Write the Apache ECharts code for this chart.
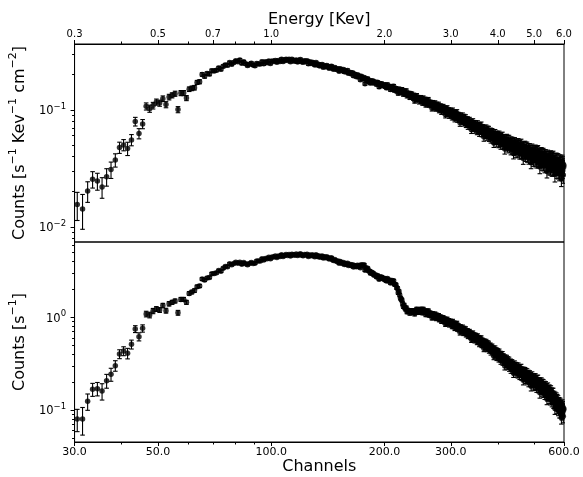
<!DOCTYPE html>
<html><head><meta charset="utf-8">
<script src="https://cdn.jsdelivr.net/npm/echarts@6/dist/echarts.min.js"></script>
<style>html,body{margin:0;padding:0;background:#fff}#c{width:583px;height:477px}</style>
</head><body><div id="c"></div>
<script>
// ---------------- data ----------------
const firstChannel = 30;           // first channel of the spectrum (one point per channel)
const keVPerChannel = 0.01;        // energy calibration used by the top axis
const channelRange = [30, 600];
const fluxRange = [0.00741, 0.365];
const rateRange = [0.04516, 6.49];

const energyTicks = [0.3, 0.5, 0.7, 1.0, 2.0, 3.0, 4.0, 5.0, 6.0];
const energyMinorTicks = [0.4, 0.6, 0.8, 0.9];
const channelTicks = [30, 50, 100, 200, 300, 600];
const channelMinorTicks = [40, 60, 70, 80, 90, 400, 500];
const fluxTicks = [0.01, 0.1];
const fluxMinorTicks = [0.008, 0.009, 0.02, 0.03, 0.04, 0.05, 0.06, 0.07, 0.08, 0.09, 0.2, 0.3];
const rateTicks = [0.1, 1];
const rateMinorTicks = [0.05, 0.06, 0.07, 0.08, 0.09, 0.2, 0.3, 0.4, 0.5, 0.6, 0.7, 0.8, 0.9, 2, 3, 4, 5, 6];

// top panel: counts s^-1 keV^-1 cm^-2, channels 30..599
const fluxValues = [
.0155,.0142,.0202,.0255,.0246,.0219,.0268,.0308,.0372,.0476,.0501,.0467,.0553,.0794,.0627,.0757,.107,.1023,.1086,.1165,.114,.1245,.1107,.1285,.133,.1373,.1004,.139,.139,.126,.150,.1525,.1545,.1714,.1737,.2005,.193,
.204,.202,.216,.215,.218,.228,.222,.235,.242,.240,
.253,.245,.254,.262,.258,.267,.250,.257,.247,.239,
.245,.250,.241,.238,.249,.246,.246,.258,.247,.257,
.252,.261,.249,.261,.259,.264,.255,.264,.259,.271,
.259,.265,.271,.264,.270,.258,.270,.264,.260,.267,
.256,.264,.269,.258,.255,.263,.258,.262,.247,.257,
.249,.255,.249,.242,.253,.242,.245,.237,.240,.244,
.231,.238,.233,.239,.233,.227,.232,.236,.226,.222,
.230,.224,.221,.224,.214,.224,.219,.216,.221,.211,
.216,.210,.217,.205,.207,.208,.202,.207,.195,.202,
.198,.192,.199,.191,.194,.181,.193,.187,.184,.189,
.167,.184,.178,.184,.174,.177,.169,.177,.172,.176,
.169,.171,.172,.165,.172,.166,.157,.168,.162,.167,
.163,.161,.164,.158,
.162,.154,.164,.157,.155,.159,.149,.156,.158,.150,
.159,.147,.150,.152,.145,.148,.139,.150,.145,.141,
.144,.148,.141,.137,.144,.139,.137,.144,.133,.137,
.134,.137,.129,.136,.132,.135,.130,.127,.132,.120,
.128,.123,.131,.125,.124,.126,.118,.124,.126,.120,
.122,.115,.125,.119,.116,.122,.111,.117,.121,.114,
.121,.111,.113,.115,.110,.113,.103,.114,.110,.106,
.109,.113,.105,.103,.110,.106,.104,.110,.0998,.106,
.102,.106,.0970,.104,.1011,.105,.1000,.0965,.102,.0905,
.0999,.0934,.102,.0963,.0938,.0981,.0900,.0950,.0973,.0922,
.0954,.0875,.0972,.0912,.0880,.0938,.0843,.0911,.0932,.0874,
.0939,.0839,.0878,.0891,.0834,.0873,.0774,.0881,.0842,.0813,
.0850,.0879,.0808,.0779,.0856,.0810,.0790,.0849,.0757,.0808,
.0780,.0815,.0732,.0798,.0771,.0805,.0754,.0728,.0777,.0675,
.0761,.0705,.0782,.0734,.0708,.0755,.0679,.0732,.0751,.0704,
.0729,.0662,.0750,.0698,.0673,.0726,.0640,.0698,.0722,.0664,
.0729,.0638,.0676,.0693,.0636,.0679,.0584,.0686,.0650,.0621,
.0657,.0686,.0619,.0597,.0671,.0630,.0614,.0668,.0584,.0637,
.0609,.0644,.0567,.0625,.0605,.0638,.0593,.0566,.0618,.0520,
.0600,.0551,.0624,.0581,.0561,.0604,.0527,.0581,.0602,.0554,
.0586,.0521,.0603,.0556,.0531,.0579,.0505,.0558,.0582,.0531,
.0589,.0507,.0542,.0562,.0512,.0548,.0461,.0560,.0527,.0499,
.0533,.0563,.0504,.0482,.0552,.0514,.0502,.0552,.0473,.0522,
.0500,.0534,.0457,.0516,.0499,.0532,.0491,.0464,.0518,.0422,
.0499,.0454,.0525,.0485,.0464,.0510,.0437,.0488,.0510,.0466,
.0493,.0434,.0513,.0469,.0449,.0495,.0423,.0473,.0499,.0452,
.0506,.0426,.0462,.0479,.0431,.0467,.0383,.0482,.0449,.0425,
.0455,.0485,.0430,.0407,.0476,.0439,.0429,.0476,.0400,.0447,
.0429,.0462,.0387,.0446,.0428,.0460,.0421,.0394,.0443,.0354,
.0428,.0385,.0456,.0416,.0398,.0439,.0372,.0420,.0443,.0401,
.0428,.0370,.0446,.0404,.0383,.0430,.0361,.0408,.0434,.0385,
.0440,.0363,.0398,.0417,.0372,.0407,.0324,.0419,.0387,.0363,
.0393,.0422,.0368,.0348,.0415,.0380,.0368,.0416,.0343,.0387,
.0371,.0404,.0332,.0387,.0371,.0403,.0365,.0339,.0389,.0300,
.0372,.0331,.0399,.0362,.0343,.0385,.0320,.0365,.0389,.0345,
.0373,.0319,.0393,.0353,.0334,.0379,.0312,.0361,.0384,.0338,
.0389,.0315,.0348,.0368,.0322,.0357,.0280,.0372,.0340,.0319,
.0345,.0374,.0323,.0302,.0369,.0334,.0323,.0369,.0298,.0340,
.0326,.0359,.0289,.0340,.0327,.0359,.0322,.0296,.0347,.0258,
.0328,.0290,.0356,.0320,.0303,.0345,.0277,.0323,.0335
];

// bottom panel: counts s^-1, channels 30..599
const rateValues = [
.080,.080,.124,.167,.170,.160,.207,.243,.301,.402,.433,.409,.511,.748,.618,.760,1.086,1.06,1.17,1.23,1.20,1.34,1.18,1.40,1.45,1.50,1.12,1.56,1.56,1.45,1.81,1.87,1.94,2.14,2.18,2.59,2.52,
2.65,2.69,2.95,2.96,3.02,3.20,3.14,3.38,3.53,3.52,
3.77,3.68,3.80,3.92,3.83,3.92,3.73,3.89,3.78,3.68,
3.81,3.91,3.81,3.83,4.06,4.04,4.06,4.28,4.14,4.32,
4.29,4.45,4.27,4.47,4.46,4.57,4.42,4.59,4.52,4.74,
4.53,4.65,4.76,4.65,4.75,4.57,4.80,4.72,4.67,4.81,
4.63,4.77,4.85,4.66,4.61,4.75,4.69,4.78,4.54,4.71,
4.60,4.72,4.62,4.51,4.72,4.52,4.60,4.45,4.52,4.59,
4.35,4.50,4.40,4.51,4.38,4.25,4.34,4.39,4.18,4.09,
4.20,4.08,4.00,4.04,3.84,4.00,3.89,3.81,3.90,3.71,
3.80,3.70,3.83,3.63,3.68,3.70,3.60,3.69,3.49,3.62,
3.57,3.50,3.64,3.54,3.63,3.43,3.69,3.64,3.61,3.69,
3.22,3.43,3.31,3.38,3.16,3.16,2.98,3.08,2.97,3.01,
2.85,2.87,2.86,2.72,2.83,2.72,2.57,2.74,2.64,2.72,
2.65,2.60,2.63,2.53,
2.59,2.46,2.62,2.50,2.46,2.52,2.35,2.46,2.49,2.38,
2.48,2.27,2.26,2.24,2.08,2.06,1.84,1.90,1.74,1.61,
1.57,1.53,1.40,1.31,1.35,1.27,1.23,1.26,1.15,1.19,
1.16,1.18,1.11,1.17,1.15,1.18,1.15,1.13,1.18,1.09,
1.17,1.13,1.22,1.17,1.16,1.20,1.13,1.19,1.22,1.17,
1.20,1.12,1.22,1.16,1.13,1.17,1.07,1.13,1.16,1.10,
1.17,1.06,1.085,1.11,1.05,1.09,.986,1.09,1.045,1.01,
1.05,1.08,1.00,.974,1.05,1.00,.985,1.04,.946,1.00,
.965,.999,.912,.974,.95,.983,.94,.902,.953,.846,
.933,.874,.945,.895,.872,.912,.836,.879,.900,.851,
.880,.806,.893,.836,.805,.857,.769,.828,.846,.792,
.850,.756,.789,.798,.746,.778,.689,.780,.744,.716,
.748,.772,.709,.682,.749,.708,.689,.740,.658,.702,
.676,.705,.634,.689,.664,.692,.647,.624,.664,.576,
.648,.599,.664,.621,.598,.635,.570,.614,.627,.586,
.605,.548,.618,.574,.552,.592,.521,.566,.584,.535,
.585,.511,.540,.552,.506,.539,.462,.542,.512,.488,
.514,.535,.482,.463,.518,.485,.471,.511,.446,.484,
.461,.486,.427,.469,.452,.475,.440,.418,.454,.381,
.438,.400,.452,.418,.403,.432,.374,.412,.424,.388,
.409,.362,.417,.382,.364,.395,.342,.376,.391,.355,
.391,.335,.358,.369,.334,.355,.298,.360,.337,.317,
.338,.355,.316,.301,.343,.319,.310,.339,.289,.318,
.304,.323,.276,.310,.299,.318,.292,.275,.306,.249,
.293,.266,.307,.282,.269,.296,.252,.281,.293,.267,
.281,.247,.291,.266,.253,.278,.238,.264,.279,.251,
.281,.235,.255,.263,.237,.254,.209,.261,.243,.229,
.245,.259,.230,.217,.253,.233,.226,.251,.210,.234,
.224,.241,.201,.231,.221,.238,.217,.202,.227,.181,
.218,.196,.231,.211,.201,.220,.186,.210,.221,.200,
.213,.184,.220,.199,.188,.211,.176,.198,.210,.186,
.212,.175,.191,.199,.177,.192,.153,.198,.182,.170,
.184,.197,.171,.161,.191,.174,.168,.189,.156,.175,
.167,.181,.149,.173,.165,.179,.161,.149,.171,.131,
.162,.144,.173,.156,.146,.164,.135,.154,.164,.145,
.155,.131,.161,.144,.135,.152,.125,.143,.151,.132,
.151,.121,.133,.140,.121,.133,.104,.137,.124,.116,
.124,.134,.114,.106,.129,.116,.112,.125,.101,.114,
.109,.119,.0959,.112,.107,.117,.105,.0956,.111,.0824,
.104,.0918,.112,.100,.0947,.107,.0855,.0997,.103
];

// relative 1-sigma error per channel (same counting statistics in both panels)
const relError = [
.27,.33,.20,.16,.165,.20,.17,.16,.13,.11,.11,.13,.11,.085,.10,.09,.07,.07,.065,.06,.06,.055,.06,.055,.05,.05,.06,.05,.05,.05,.045,.045,.045,.04,.04,.035,.035,
.033,.033,.032,.032,.031,.031,.031,.030,.030,.030,.029,.029,.029,.029,
.028,.028,.028,.028,.028,.028,.028,.028,.028,.028,.028,.028,.028,.028,.028,.028,.028,.028,.028,.028,
.028,.028,.028,.028,.028,.028,.028,.028,.028,.028,.028,.028,.028,.028,.028,.028,.028,.028,.028,.028,
.029,.029,.029,.029,.029,.029,.029,.029,.029,.029,.029,.029,.029,.029,.029,.029,.029,.029,.029,.029,
.029,.029,.029,.029,.029,.029,.029,.029,.029,.029,.029,.029,.029,.029,.029,.029,.029,.029,.029,.029,
.029,.029,.029,.029,.029,.029,.029,.029,.029,.029,.029,.029,.029,.029,.029,.029,
.030,.030,.030,.030,.031,.031,.031,.031,.032,.032,.032,.032,.032,.033,.033,.033,.033,.033,.033,.033,.033,.034,.034,.034,
.034,.034,.034,.034,.034,.034,.034,.034,.034,.034,
.035,.036,.037,.038,.039,.040,.041,.042,.043,.044,.045,.046,.047,.048,.049,.050,.050,.050,.051,.051,
.051,.051,.051,.051,.051,.051,.051,.051,.051,.051,.051,.051,.051,.051,.051,.051,.051,.051,.051,.051,.051,.051,.051,.051,.051,.051,.051,.051,.051,.051,
.053,.053,.053,.053,.053,.053,.053,.053,.053,.053,.056,.056,.056,.056,.056,.056,.056,.056,.056,.056,
.059,.059,.059,.059,.059,.059,.059,.059,.059,.059,.062,.062,.062,.062,.062,.062,.062,.062,.062,.062,
.065,.065,.065,.065,.065,.065,.065,.065,.065,.065,.067,.067,.067,.067,.067,.067,.067,.067,.067,.067,
.069,.069,.069,.069,.069,.069,.069,.069,.069,.069,.071,.071,.071,.071,.071,.071,.071,.071,.071,.071,
.073,.073,.073,.073,.073,.073,.073,.073,.073,.073,
.075,.075,.075,.075,.075,.075,.075,.075,.075,.075,.078,.078,.078,.078,.078,.078,.078,.078,.078,.078,
.081,.081,.081,.081,.081,.081,.081,.081,.081,.081,.084,.084,.084,.084,.084,.084,.084,.084,.084,.084,
.087,.087,.087,.087,.087,.087,.087,.087,.087,.087,
.090,.090,.090,.090,.090,.090,.090,.090,.090,.090,.093,.093,.093,.093,.093,.093,.093,.093,.093,.093,
.096,.096,.096,.096,.096,.096,.096,.096,.096,.096,.099,.099,.099,.099,.099,.099,.099,.099,.099,.099,
.102,.102,.102,.102,.102,.102,.102,.102,.102,.102,
.105,.105,.105,.105,.105,.105,.105,.105,.105,.105,.108,.108,.108,.108,.108,.108,.108,.108,.108,.108,
.111,.111,.111,.111,.111,.111,.111,.111,.111,.111,.114,.114,.114,.114,.114,.114,.114,.114,.114,.114,
.117,.117,.117,.117,.117,.117,.117,.117,.117,.117,
.120,.120,.120,.120,.120,.120,.120,.120,.120,.120,.123,.123,.123,.123,.123,.123,.123,.123,.123,.123,
.126,.126,.126,.126,.126,.126,.126,.126,.126,.126,.129,.129,.129,.129,.129,.129,.129,.129,.129,.129,
.132,.132,.132,.132,.132,.132,.132,.132,.132,.132,
.135,.135,.135,.135,.135,.135,.135,.135,.135,.135,.138,.138,.138,.138,.138,.138,.138,.138,.138,.138,
.141,.141,.141,.141,.141,.141,.141,.141,.141,.141,.145,.145,.145,.145,.145,.145,.145,.145,.145,.145,
.150,.150,.150,.150,.150,.150,.150,.150,.150
];

// ---------------- build ----------------
const FONT = 'DejaVu Sans';
const n = Math.min(fluxValues.length, rateValues.length, relError.length);
const ptsTop = [], errTop = [], ptsBot = [], errBot = [];
for (let i = 0; i < n; i++) {
  const ch = firstChannel + i + 0.5;       // channel centre
  const e = relError[i];
  ptsTop.push([ch, fluxValues[i]]);
  errTop.push([ch, fluxValues[i] * (1 - e), fluxValues[i] * (1 + e)]);
  ptsBot.push([ch, rateValues[i]]);
  errBot.push([ch, rateValues[i] * (1 - e), rateValues[i] * (1 + e)]);
}
const L = Math.log10;
const lg = a => a.map(v => L(v));

function renderErr(params, api) {
  const x = api.value(0);
  const lo = api.coord([x, api.value(1)]);
  const hi = api.coord([x, api.value(2)]);
  const cap = 2.3;
  const style = { stroke: '#000', lineWidth: 1.1, fill: null };
  return { type: 'group', children: [
    { type: 'line', shape: { x1: lo[0], y1: lo[1], x2: hi[0], y2: hi[1] }, style },
    { type: 'line', shape: { x1: lo[0] - cap, y1: lo[1], x2: lo[0] + cap, y2: lo[1] }, style },
    { type: 'line', shape: { x1: hi[0] - cap, y1: hi[1], x2: hi[0] + cap, y2: hi[1] }, style }
  ]};
}

const supRich = (big, small, bigLH, smallLH) => ({
  b: { fontFamily: FONT, fontSize: big, lineHeight: bigLH, verticalAlign: 'bottom', color: '#000' },
  s: { fontFamily: FONT, fontSize: small, lineHeight: smallLH, verticalAlign: 'top', color: '#000' }
});
const powLabel = v => { const k = Math.round(v); return '{b|10}{s|' + (k < 0 ? '\u2212' + (-k) : k) + '}'; };

const lineStyle = { color: '#000', width: 1 };
const hidden = { show: false };

function decoX(grid, pos, major, minorVals, labelFmt, fontSize, name, nameGap) {
  return [
    { gridIndex: grid, type: 'value', position: pos, min: L(channelRange[0]), max: L(channelRange[1]),
      axisLine: { show: true, onZero: false, lineStyle }, splitLine: hidden,
      axisTick: { show: true, inside: false, length: 4, customValues: lg(major), lineStyle },
      axisLabel: { show: true, customValues: lg(major), formatter: labelFmt, margin: 5,
                   fontFamily: FONT, fontSize: fontSize, color: '#000' },
      name: name, nameLocation: 'middle', nameGap: nameGap,
      nameTextStyle: { fontFamily: FONT, fontSize: 16, color: '#000' } },
    { gridIndex: grid, type: 'value', position: pos, min: L(channelRange[0]), max: L(channelRange[1]),
      axisLine: { show: false, onZero: false }, splitLine: hidden, axisLabel: hidden,
      axisTick: { show: true, inside: false, length: 2.5, customValues: lg(minorVals), lineStyle } }
  ];
}
function decoY(grid, range, major, minorVals, nameRich, nameGap) {
  return [
    { gridIndex: grid, type: 'value', position: 'left', min: L(range[0]), max: L(range[1]),
      axisLine: { show: true, onZero: false, lineStyle }, splitLine: hidden,
      axisTick: { show: true, inside: false, length: 4, customValues: lg(major), lineStyle },
      axisLabel: { show: true, customValues: lg(major), formatter: powLabel, margin: 8.5,
                   rich: supRich(11.5, 8.5, 15, 7) },
      name: nameRich, nameLocation: 'middle', nameRotate: 90, nameGap: nameGap,
      nameTextStyle: { rich: {
        a: { fontFamily: FONT, fontSize: 16, lineHeight: 20, verticalAlign: 'bottom', color: '#000' },
        s: { fontFamily: FONT, fontSize: 11, lineHeight: 9, verticalAlign: 'top', color: '#000' } } } },
    { gridIndex: grid, type: 'value', position: 'left', min: L(range[0]), max: L(range[1]),
      axisLine: { show: false, onZero: false }, splitLine: hidden, axisLabel: hidden,
      axisTick: { show: true, inside: false, length: 2.5, customValues: lg(minorVals), lineStyle } }
  ];
}

const energyFmt = v => (Math.pow(10, v) * keVPerChannel).toFixed(1);
const channelFmt = v => Math.pow(10, v).toFixed(1);
const energyAsChannel = a => a.map(e => Math.round(e / keVPerChannel));

const option = {
  animation: false,
  backgroundColor: '#fff',
  grid: [
    { left: 66, right: 19, top: 44, height: 198, show: true, borderColor: '#000', borderWidth: 1, backgroundColor: 'transparent' },
    { left: 66, right: 19, top: 242, height: 200, show: true, borderColor: '#000', borderWidth: 1, backgroundColor: 'transparent' }
  ],
  xAxis: [
    { gridIndex: 0, type: 'log', logBase: 10, min: channelRange[0], max: channelRange[1], position: 'bottom', show: false, axisLine: { onZero: false } },
    { gridIndex: 1, type: 'log', logBase: 10, min: channelRange[0], max: channelRange[1], position: 'bottom', show: false, axisLine: { onZero: false } },
    ...decoX(0, 'top', energyAsChannel(energyTicks), energyAsChannel(energyMinorTicks), energyFmt, 10, 'Energy [Kev]', 15),
    ...decoX(1, 'bottom', channelTicks, channelMinorTicks, channelFmt, 11, 'Channels', 16)
  ],
  yAxis: [
    { gridIndex: 0, type: 'log', logBase: 10, min: fluxRange[0], max: fluxRange[1], position: 'left', show: false, axisLine: { onZero: false } },
    { gridIndex: 1, type: 'log', logBase: 10, min: rateRange[0], max: rateRange[1], position: 'left', show: false, axisLine: { onZero: false } },
    ...decoY(0, fluxRange, fluxTicks, fluxMinorTicks,
      '{a|Counts [s}{s|\u22121}{a| Kev}{s|\u22121}{a| cm}{s|\u22122}{a|]}', 36),
    ...decoY(1, rateRange, rateTicks, rateMinorTicks, '{a|Counts [s}{s|\u22121}{a|]}', 36)
  ],
  series: [
    { type: 'custom', xAxisIndex: 0, yAxisIndex: 0, data: errTop, renderItem: renderErr, clip: true,
      encode: { x: 0, y: [1, 2] }, silent: true },
    { type: 'scatter', xAxisIndex: 0, yAxisIndex: 0, data: ptsTop, symbol: 'circle', symbolSize: 5.5,
      itemStyle: { color: '#000' }, clip: true, silent: true },
    { type: 'custom', xAxisIndex: 1, yAxisIndex: 1, data: errBot, renderItem: renderErr, clip: true,
      encode: { x: 0, y: [1, 2] }, silent: true },
    { type: 'scatter', xAxisIndex: 1, yAxisIndex: 1, data: ptsBot, symbol: 'circle', symbolSize: 5.5,
      itemStyle: { color: '#000' }, clip: true, silent: true }
  ]
};
const chart = echarts.init(document.getElementById('c'), null, { renderer: 'canvas' });
chart.setOption(option);
</script>
</body></html>
